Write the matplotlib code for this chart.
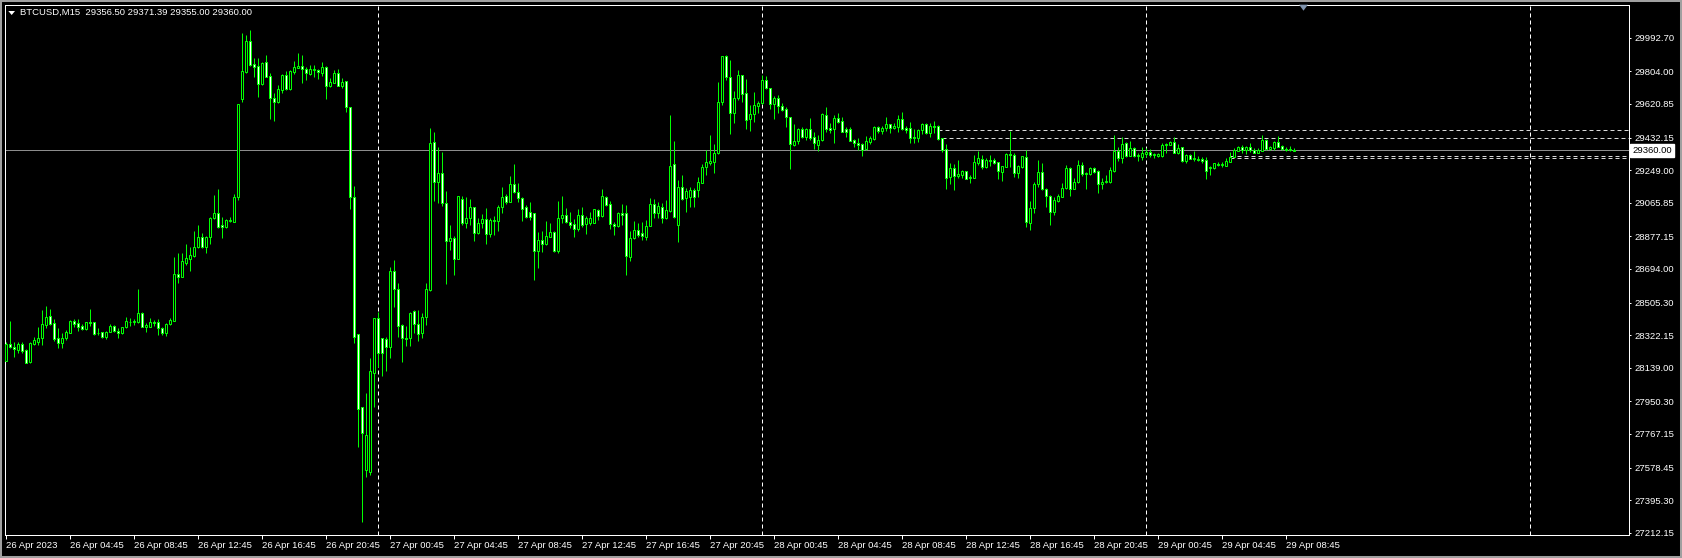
import matplotlib
matplotlib.use("Agg")
import matplotlib.pyplot as plt
from matplotlib.patches import Rectangle, Polygon

plt.rcParams['font.family'] = ['Liberation Sans', 'DejaVu Sans']

symbol = "BTCUSD,M15"

# M15 candles, 26 Apr 00:00 .. 29 Apr ~09:30
opens = [
    28179, 28272, 28257, 28239, 28272, 28239, 28169, 28272, 28284, 28304,
    28381, 28430, 28388, 28304, 28276, 28304, 28336, 28400, 28388, 28374,
    28355, 28396, 28394, 28332, 28338, 28314, 28342, 28374, 28347, 28332,
    28366, 28398, 28396, 28398, 28445, 28370, 28370, 28398, 28394, 28360,
    28336, 28383, 28403, 28664, 28651, 28729, 28752, 28769, 28819, 28872,
    28815, 28872, 28978, 29006, 28941, 28931, 28961, 28960, 29096, 29647,
    29802, 29974, 29845, 29834, 29731, 29854, 29778, 29656, 29634, 29699,
    29783, 29703, 29802, 29825, 29834, 29815, 29787, 29811, 29811, 29796,
    29826, 29723, 29740, 29793, 29723, 29748, 29605, 29096, 28327, 27917,
    27565, 27555, 28111, 28420, 28304, 28299, 28254, 28682, 28579, 28379,
    28308, 28304, 28458, 28385, 28332, 28422, 28576, 29407, 29184, 29231,
    29062, 28853, 28868, 28748, 29085, 28954, 28978, 29040, 28898, 28950,
    28973, 28888, 28969, 28965, 29044, 29104, 29072, 29171, 29128, 29090,
    29040, 29012, 29006, 28797, 28856, 28832, 28875, 28900, 28797, 28978,
    28995, 28959, 28944, 28916, 28995, 28946, 28954, 28954, 29025, 28993,
    29096, 29057, 28946, 28935, 29006, 29006, 28763, 28866, 28913, 28894,
    28875, 28937, 29057, 29010, 29044, 28978, 29021, 29281, 28941, 29152,
    29090, 29096, 29137, 29137, 29178, 29265, 29287, 29296, 29343, 29633,
    29890, 29774, 29572, 29652, 29781, 29680, 29536, 29564, 29611, 29624,
    29753, 29708, 29618, 29652, 29609, 29590, 29545, 29388, 29413, 29478,
    29437, 29478, 29433, 29388, 29418, 29559, 29484, 29478, 29540, 29523,
    29480, 29478, 29418, 29399, 29394, 29366, 29409, 29422, 29489, 29471,
    29484, 29506, 29487, 29493, 29536, 29486, 29484, 29437, 29431, 29474,
    29508, 29456, 29497, 29497, 29428, 29366, 29212, 29259, 29218, 29222,
    29244, 29203, 29207, 29291, 29310, 29265, 29306, 29306, 29293, 29240,
    29268, 29340, 29334, 29235, 29268, 29325, 28954, 29034, 29171, 29240,
    29141, 29104, 29016, 29077, 29100, 29150, 29259, 29143, 29180, 29278,
    29227, 29227, 29259, 29244, 29169, 29184, 29184, 29246, 29356, 29315,
    29399, 29330, 29371, 29328, 29325, 29340, 29349, 29334, 29328, 29330,
    29390, 29390, 29409, 29347, 29377, 29302, 29332, 29311, 29313, 29310,
    29306, 29259, 29259, 29283, 29278, 29274, 29296, 29325, 29358, 29377,
    29362, 29377, 29362, 29347, 29358, 29418, 29366, 29375, 29409, 29384,
    29368, 29362, 29356.50,
]
highs = [
    28284, 28402, 28286, 28284, 28284, 28242, 28286, 28314, 28366, 28463,
    28486, 28467, 28411, 28360, 28336, 28351, 28407, 28415, 28411, 28385,
    28398, 28469, 28398, 28360, 28342, 28347, 28383, 28379, 28360, 28370,
    28422, 28417, 28411, 28581, 28452, 28388, 28417, 28407, 28411, 28370,
    28388, 28417, 28759, 28782, 28782, 28834, 28815, 28909, 28941, 28894,
    28879, 28988, 29109, 29143, 28988, 28976, 28988, 29115, 29620, 30017,
    30008, 30036, 29877, 29877, 29858, 29896, 29793, 29684, 29727, 29787,
    29806, 29811, 29862, 29905, 29896, 29830, 29839, 29839, 29815, 29858,
    29834, 29765, 29811, 29817, 29765, 29750, 29605, 29160, 28327, 27917,
    27995, 28196, 28420, 28454, 28304, 28310, 28707, 28744, 28617, 28385,
    28375, 28454, 28463, 28463, 28445, 28617, 29487, 29465, 29377, 29349,
    29132, 28941, 28879, 29104, 29104, 29096, 29087, 29040, 28978, 29003,
    29034, 28978, 28991, 29053, 29152, 29115, 29216, 29283, 29175, 29096,
    29053, 29068, 29006, 28903, 28909, 28963, 28950, 28909, 29076, 29104,
    29034, 29016, 28974, 29031, 29040, 28991, 29016, 29032, 29029, 29143,
    29104, 29076, 28958, 29012, 29059, 29053, 28909, 28963, 28950, 28959,
    28969, 29090, 29085, 29072, 29062, 29081, 29558, 29412, 29193, 29221,
    29147, 29152, 29147, 29212, 29283, 29362, 29446, 29396, 29742, 29890,
    29895, 29867, 29695, 29811, 29783, 29759, 29615, 29690, 29639, 29781,
    29778, 29712, 29665, 29671, 29624, 29605, 29545, 29508, 29484, 29493,
    29484, 29542, 29463, 29444, 29572, 29604, 29512, 29559, 29570, 29549,
    29489, 29489, 29426, 29428, 29403, 29439, 29439, 29497, 29497, 29497,
    29545, 29508, 29512, 29560, 29575, 29497, 29521, 29478, 29478, 29516,
    29512, 29512, 29526, 29502, 29428, 29394, 29287, 29281, 29306, 29250,
    29246, 29222, 29334, 29356, 29334, 29319, 29334, 29315, 29296, 29272,
    29343, 29471, 29347, 29278, 29328, 29362, 29077, 29184, 29306, 29287,
    29147, 29109, 29096, 29115, 29179, 29278, 29265, 29203, 29306, 29293,
    29240, 29268, 29268, 29250, 29203, 29222, 29265, 29446, 29381, 29433,
    29409, 29413, 29377, 29347, 29377, 29371, 29366, 29347, 29347, 29399,
    29403, 29413, 29433, 29394, 29381, 29338, 29340, 29356, 29328, 29325,
    29325, 29272, 29291, 29293, 29293, 29315, 29353, 29375, 29384, 29390,
    29384, 29399, 29375, 29371, 29446, 29422, 29384, 29413, 29441, 29390,
    29377, 29384, 29371.39,
]
lows = [
    28175, 28248, 28201, 28220, 28220, 28164, 28168, 28267, 28267, 28267,
    28360, 28379, 28291, 28251, 28248, 28295, 28332, 28366, 28347, 28351,
    28351, 28374, 28323, 28323, 28304, 28301, 28338, 28342, 28308, 28329,
    28360, 28374, 28379, 28388, 28366, 28342, 28370, 28374, 28323, 28323,
    28317, 28379, 28400, 28613, 28647, 28716, 28684, 28763, 28810, 28810,
    28785, 28834, 28973, 28922, 28866, 28922, 28956, 28956, 29081, 29634,
    29796, 29836, 29774, 29658, 29727, 29770, 29538, 29527, 29628, 29684,
    29699, 29699, 29787, 29821, 29736, 29755, 29783, 29774, 29759, 29778,
    29648, 29714, 29736, 29722, 29710, 29577, 29031, 28276, 27696, 27272,
    27523, 27537, 27920, 28145, 28094, 28123, 28196, 28478, 28314, 28173,
    28263, 28263, 28332, 28291, 28308, 28379, 28572, 29077, 29066, 29049,
    28610, 28800, 28660, 28748, 28941, 28922, 28941, 28851, 28890, 28922,
    28834, 28875, 28885, 28909, 29006, 29059, 29072, 29122, 29072, 28965,
    28978, 28969, 28630, 28701, 28791, 28828, 28871, 28791, 28785, 28950,
    28950, 28922, 28875, 28909, 28931, 28890, 28941, 28950, 28969, 28988,
    29047, 28918, 28885, 28931, 28941, 28660, 28740, 28860, 28875, 28856,
    28856, 28937, 28978, 28982, 28950, 28972, 29016, 28982, 28845, 29081,
    29016, 29044, 29044, 29096, 29175, 29221, 29278, 29235, 29339, 29615,
    29755, 29452, 29515, 29643, 29633, 29480, 29471, 29521, 29572, 29620,
    29703, 29594, 29538, 29568, 29579, 29493, 29255, 29384, 29394, 29428,
    29418, 29418, 29368, 29356, 29414, 29465, 29456, 29403, 29516, 29465,
    29437, 29411, 29377, 29362, 29330, 29362, 29396, 29418, 29456, 29452,
    29471, 29459, 29478, 29461, 29474, 29459, 29399, 29399, 29405, 29452,
    29452, 29437, 29460, 29418, 29353, 29143, 29171, 29137, 29203, 29203,
    29197, 29179, 29203, 29278, 29253, 29259, 29272, 29281, 29199, 29190,
    29265, 29268, 29208, 29207, 29259, 28928, 28913, 29006, 29152, 29137,
    29044, 28941, 28997, 29072, 29096, 29143, 29104, 29141, 29175, 29218,
    29143, 29222, 29231, 29122, 29141, 29175, 29179, 29240, 29302, 29287,
    29325, 29328, 29325, 29302, 29306, 29325, 29325, 29315, 29321, 29325,
    29343, 29390, 29343, 29338, 29296, 29291, 29310, 29302, 29302, 29291,
    29199, 29222, 29255, 29272, 29268, 29272, 29296, 29321, 29356, 29343,
    29340, 29353, 29343, 29343, 29358, 29362, 29362, 29362, 29377, 29362,
    29358, 29356, 29355.00,
]
closes = [
    28272, 28254, 28242, 28272, 28235, 28168, 28276, 28295, 28304, 28385,
    28422, 28385, 28301, 28276, 28304, 28338, 28400, 28385, 28370, 28355,
    28394, 28392, 28329, 28336, 28314, 28340, 28374, 28347, 28332, 28366,
    28400, 28394, 28400, 28445, 28370, 28379, 28398, 28392, 28360, 28332,
    28383, 28405, 28666, 28651, 28739, 28757, 28772, 28819, 28872, 28815,
    28872, 28978, 29006, 28931, 28928, 28967, 28969, 29096, 29620, 29806,
    29974, 29839, 29830, 29731, 29849, 29774, 29652, 29634, 29705, 29783,
    29703, 29806, 29828, 29834, 29815, 29793, 29817, 29819, 29798, 29826,
    29723, 29744, 29793, 29723, 29744, 29605, 29100, 28314, 27905, 27774,
    27761, 28121, 28420, 28224, 28220, 28257, 28682, 28579, 28375, 28304,
    28302, 28445, 28383, 28329, 28424, 28581, 29399, 29184, 29231, 29062,
    28853, 28868, 28748, 29104, 28954, 28978, 29040, 28898, 28950, 28973,
    28888, 28969, 28965, 29044, 29096, 29072, 29171, 29128, 29090, 29032,
    28988, 28988, 28797, 28856, 28834, 28879, 28900, 28797, 28978, 28997,
    28959, 28941, 28916, 28995, 28941, 28978, 28978, 29029, 28993, 29104,
    29053, 28944, 28935, 29006, 28997, 28768, 28866, 28913, 28885, 28879,
    28937, 29057, 29010, 29047, 28978, 29025, 29272, 28984, 29152, 29085,
    29134, 29137, 29096, 29180, 29265, 29293, 29298, 29343, 29630, 29890,
    29774, 29568, 29652, 29781, 29675, 29530, 29564, 29613, 29624, 29753,
    29708, 29618, 29652, 29609, 29587, 29545, 29394, 29413, 29478, 29437,
    29478, 29428, 29399, 29418, 29564, 29480, 29474, 29540, 29521, 29465,
    29465, 29414, 29399, 29390, 29362, 29413, 29431, 29489, 29471, 29487,
    29506, 29487, 29497, 29536, 29478, 29474, 29431, 29431, 29474, 29508,
    29456, 29497, 29493, 29422, 29362, 29207, 29259, 29218, 29225, 29244,
    29199, 29210, 29293, 29315, 29265, 29306, 29300, 29291, 29246, 29272,
    29340, 29332, 29235, 29272, 29328, 28959, 29034, 29171, 29240, 29141,
    29104, 29016, 29081, 29104, 29150, 29259, 29143, 29180, 29278, 29225,
    29231, 29259, 29240, 29169, 29184, 29190, 29250, 29356, 29315, 29394,
    29328, 29371, 29328, 29334, 29343, 29349, 29334, 29338, 29338, 29390,
    29398, 29409, 29347, 29375, 29302, 29332, 29311, 29315, 29306, 29302,
    29246, 29268, 29287, 29278, 29283, 29300, 29325, 29362, 29377, 29362,
    29377, 29360, 29347, 29362, 29418, 29366, 29377, 29409, 29381, 29368,
    29362, 29366, 29360.00,
]

price_ticks = [29992.70, 29804.00, 29620.85, 29432.15, 29249.00, 29065.85,
               28877.15, 28694.00, 28505.30, 28322.15, 28139.00, 27950.30,
               27767.15, 27578.45, 27395.30, 27212.15]
time_bars = [0, 16, 32, 48, 64, 80, 96, 112, 128, 144, 160, 176, 192, 208,
             224, 240, 256, 272, 288, 304, 320]
time_labels = ["26 Apr 2023", "26 Apr 04:45", "26 Apr 08:45", "26 Apr 12:45",
               "26 Apr 16:45", "26 Apr 20:45", "27 Apr 00:45", "27 Apr 04:45",
               "27 Apr 08:45", "27 Apr 12:45", "27 Apr 16:45", "27 Apr 20:45",
               "28 Apr 00:45", "28 Apr 04:45", "28 Apr 08:45", "28 Apr 12:45",
               "28 Apr 16:45", "28 Apr 20:45", "29 Apr 00:45", "29 Apr 04:45",
               "29 Apr 08:45"]
day_breaks = [93, 189, 285, 381]
level_prices = [29474.3, 29427.7, 29326.6, 29315.3]
level_start = [233, 234, 306, 306]
bid = 29360.00
shift_bar = 324.5

W, H = 1682, 558
PX = 0.72  # one pixel in points at dpi 100
LIME = '#00ff00'

fig = plt.figure(figsize=(W / 100, H / 100), dpi=100, facecolor='black')
ax = fig.add_axes([4.5 / W, 23 / H, (1629.3 - 4.5) / W, (553.3 - 23) / H])
ax.set_facecolor('black')
ax.set_xlim(-0.25, 405.95)
ax.set_ylim(27199.4, 30178.1)

# day separators, user levels, bid line
for d in day_breaks:
    ax.axvline(d, color='white', lw=PX, ls=(0, (4, 3)), zorder=1)
for lv, st in zip(level_prices, level_start):
    ax.hlines(lv, st, 405.95, color='#d8d8d8', lw=PX, ls=(0, (4, 3)), zorder=1)
ax.axhline(bid, color='#8c8c8c', lw=PX, zorder=1)

# candles
n = len(closes)
xs = list(range(n))
ax.vlines(xs, lows, highs, color=LIME, lw=PX, zorder=2)
bottoms = [min(o, c) for o, c in zip(opens, closes)]
heights = [abs(c - o) for o, c in zip(opens, closes)]
fills = ['white' if c < o else 'black' for o, c in zip(opens, closes)]
ax.bar(xs, heights, 0.5, bottoms, color=fills, edgecolor=LIME, linewidth=PX, zorder=3)

# axes styling
for s in ax.spines.values():
    s.set_color('white')
    s.set_linewidth(PX)
ax.yaxis.tick_right()
ax.set_yticks(price_ticks)
ax.set_yticklabels([f"{p:.2f}" for p in price_ticks])
ax.tick_params(axis='y', colors='white', length=1.5, width=PX, pad=2.5, labelsize=6.8)
ax.set_xticks(time_bars)
ax.set_xticklabels(time_labels, ha='left')
ax.tick_params(axis='x', colors='white', length=3, width=PX, pad=1.5, labelsize=6.8)

# current price box
ax.text(1.0 + 3 / 1624.8, bid, f"{bid:.2f}", transform=ax.get_yaxis_transform(),
        ha='left', va='center', fontsize=6.8, color='black',
        bbox=dict(boxstyle='square,pad=0.2', fc='white', ec='white'))

# chart shift marker, hanging just under the top border
tri_h = 6 / 530.3
ax.add_patch(Polygon([(shift_bar - 1.1, 1.0), (shift_bar + 1.1, 1.0), (shift_bar, 1.0 - tri_h)],
                     closed=True, transform=ax.get_xaxis_transform(),
                     fc='#7f93ad', ec='none', clip_on=False, zorder=5))

# header
title = f"{symbol}  {opens[-1]:.2f} {highs[-1]:.2f} {lows[-1]:.2f} {closes[-1]:.2f}"
fig.text(20 / W, 1 - 12.7 / H, title, color='white', fontsize=6.8, ha='left', va='center')
fig.add_artist(Polygon([(8.3 / W, 1 - 11 / H), (15 / W, 1 - 11 / H), (11.7 / W, 1 - 15 / H)],
                       closed=True, transform=fig.transFigure, fc='white', ec='none'))

# window frame
fig.add_artist(Rectangle((0, 0), 1, 1, transform=fig.transFigure, fill=False,
                         ec='#a0a0a0', lw=2.9))

fig.savefig('out.png', dpi=100, facecolor='black')
